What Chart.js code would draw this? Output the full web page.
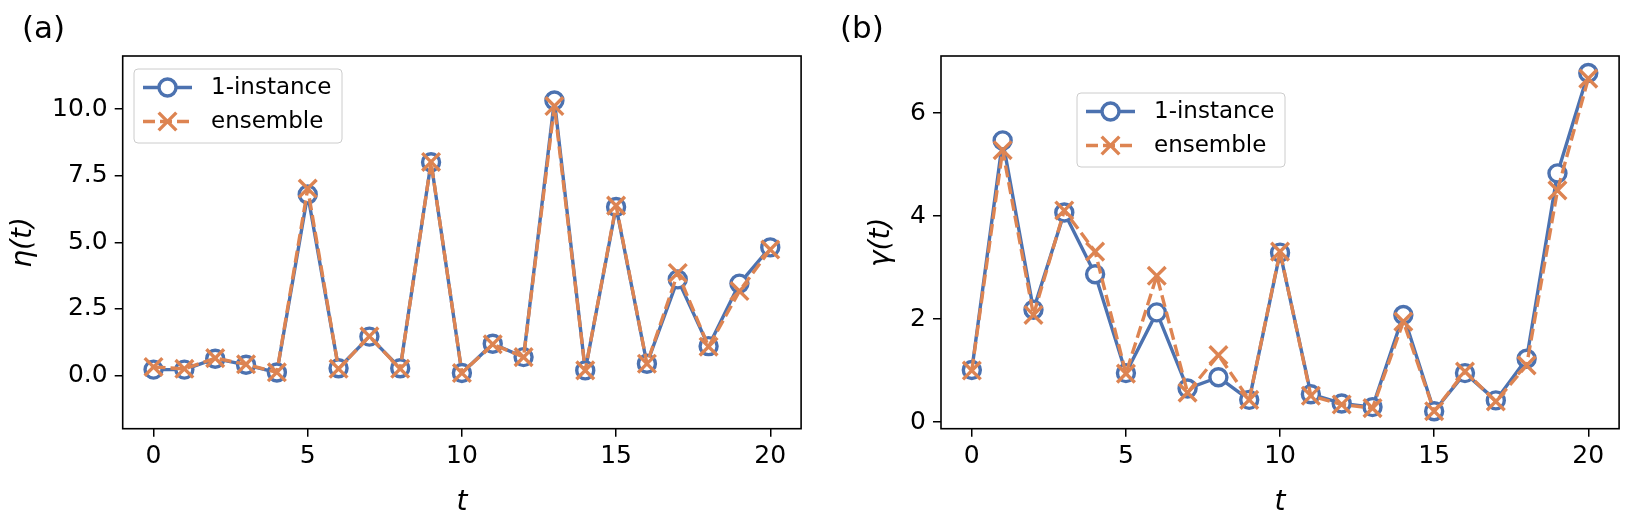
<!DOCTYPE html>
<html>
<head>
<meta charset="utf-8">
<script src="https://cdn.jsdelivr.net/npm/chart.js@4.4.1/dist/chart.umd.min.js"></script>
<style>
  html, body { margin: 0; padding: 0; background: #fff; }
  #wrap { position: relative; width: 1635px; height: 517px; }
  .panel { position: absolute; top: 0; height: 517px; }
  #panelA { left: 0; width: 817px; }
  #panelB { left: 817px; width: 818px; }
</style>
</head>
<body>
<div id="wrap">
  <div class="panel" id="panelA"><canvas id="etaChart"></canvas></div>
  <div class="panel" id="panelB"><canvas id="gammaChart"></canvas></div>
</div>
<script>
// values
const tValues = [0, 1, 2, 3, 4, 5, 6, 7, 8, 9, 10, 11, 12, 13, 14, 15, 16, 17, 18, 19, 20];
const seriesNames = ['1-instance', 'ensemble'];

const etaSingle   = [0.22, 0.22, 0.63, 0.40, 0.11, 6.80, 0.27, 1.46, 0.27, 8.01, 0.09, 1.19, 0.69, 10.33, 0.19, 6.33, 0.44, 3.61, 1.10, 3.45, 4.81];
const etaEnsemble = [0.32, 0.25, 0.65, 0.42, 0.12, 7.02, 0.25, 1.47, 0.25, 8.02, 0.09, 1.17, 0.69, 10.12, 0.19, 6.38, 0.44, 3.85, 1.08, 3.17, 4.73];

const gammaSingle   = [1.01, 5.47, 2.18, 4.07, 2.87, 0.95, 2.13, 0.65, 0.87, 0.43, 3.29, 0.54, 0.36, 0.29, 2.08, 0.21, 0.95, 0.42, 1.23, 4.83, 6.78];
const gammaEnsemble = [1.00, 5.28, 2.08, 4.11, 3.31, 0.94, 2.84, 0.57, 1.30, 0.43, 3.31, 0.51, 0.34, 0.27, 1.95, 0.21, 0.98, 0.40, 1.10, 4.50, 6.67];

const xTicks = [0, 5, 10, 15, 20];
const etaTicks = [0, 2.5, 5, 7.5, 10];
const gammaTicks = [0, 2, 4, 6];

const BLUE = '#4C72B0';
const ORANGE = '#DD8452';
const FONT = '"DejaVu Sans", sans-serif';
const LW = 3.4;

function toPoints(ys) {
  return tValues.map((t, i) => ({ x: t, y: ys[i] }));
}

function makeDatasets(single, ensemble) {
  return [
    { label: seriesNames[0], data: toPoints(single), order: 1,
      borderColor: BLUE, borderWidth: LW, tension: 0, borderJoinStyle: 'round',
      pointStyle: 'circle', pointRadius: 8.5, pointBorderWidth: LW,
      pointBorderColor: BLUE, pointBackgroundColor: '#fff' },
    { label: seriesNames[1], data: toPoints(ensemble), order: 0,
      borderColor: ORANGE, borderWidth: LW, borderDash: [12, 5], tension: 0, borderJoinStyle: 'round',
      pointStyle: 'crossRot', pointRadius: 12.5, pointBorderWidth: LW,
      pointBorderColor: ORANGE, pointBackgroundColor: ORANGE }
  ];
}

// frame, panel letter and matplotlib-style legend
const decorPlugin = {
  id: 'decor',
  afterDatasetsDraw(chart, args, o) {
    const ctx = chart.ctx, ca = chart.chartArea;
    ctx.save();
    ctx.strokeStyle = '#000';
    ctx.lineWidth = 1.6;
    ctx.strokeRect(ca.left, ca.top, ca.right - ca.left, ca.bottom - ca.top);

    // legend box
    const x0 = ca.left + o.legendDx, y0 = ca.top + o.legendDy, w = 208, h = 74;
    ctx.beginPath();
    ctx.roundRect(x0, y0, w, h, 4);
    ctx.fillStyle = 'rgba(255,255,255,0.8)';
    ctx.fill();
    ctx.strokeStyle = '#cccccc';
    ctx.lineWidth = 1;
    ctx.stroke();
    chart.data.datasets.forEach((ds, i) => {
      const ry = y0 + 18.5 + i * 34;
      const cx = x0 + 33.5;
      ctx.beginPath();
      ctx.setLineDash(ds.borderDash || []);
      ctx.strokeStyle = ds.borderColor;
      ctx.lineWidth = ds.borderWidth;
      ctx.moveTo(x0 + 9, ry);
      ctx.lineTo(x0 + 58, ry);
      ctx.stroke();
      ctx.setLineDash([]);
      ctx.lineWidth = ds.pointBorderWidth;
      ctx.strokeStyle = ds.pointBorderColor;
      ctx.beginPath();
      if (ds.pointStyle === 'circle') {
        ctx.arc(cx, ry, ds.pointRadius, 0, Math.PI * 2);
        ctx.fillStyle = ds.pointBackgroundColor;
        ctx.fill();
        ctx.stroke();
      } else {
        const d = ds.pointRadius * Math.SQRT1_2;
        ctx.moveTo(cx - d, ry - d); ctx.lineTo(cx + d, ry + d);
        ctx.moveTo(cx - d, ry + d); ctx.lineTo(cx + d, ry - d);
        ctx.stroke();
      }
      ctx.fillStyle = '#000';
      ctx.font = '23px ' + FONT;
      ctx.textBaseline = 'middle';
      ctx.textAlign = 'left';
      ctx.fillText(ds.label, x0 + 77, ry + 1);
    });

    ctx.font = '31px ' + FONT;
    ctx.textBaseline = 'alphabetic';
    ctx.fillStyle = '#000';
    ctx.fillText(o.label, o.labelX, 37.7);
    ctx.restore();
  }
};

function makePanel(canvasId, p) {
  return new Chart(document.getElementById(canvasId), {
    type: 'line',
    data: { datasets: makeDatasets(p.single, p.ensemble) },
    plugins: [decorPlugin],
    options: {
      responsive: true,
      maintainAspectRatio: false,
      animation: false,
      layout: { padding: { left: 0, right: p.padRight, top: 56, bottom: 0 } },
      plugins: {
        legend: { display: false },
        tooltip: { enabled: false },
        decor: { label: p.label, labelX: p.labelX, legendDx: p.legendDx, legendDy: p.legendDy }
      },
      scales: {
        x: {
          type: 'linear', min: -1, max: 21,
          afterBuildTicks: s => { s.ticks = xTicks.map(v => ({ value: v })); },
          afterFit: s => { s.height = 88.3; },
          border: { display: false },
          grid: { drawOnChartArea: false, drawTicks: true, tickLength: 8, color: '#000', lineWidth: 1.5 },
          ticks: { color: '#000', font: { family: FONT, size: 25, lineHeight: 1.2 }, padding: 5, maxRotation: 0 },
          title: { display: true, text: 't', color: '#000',
                   font: { family: FONT, size: 28, style: 'italic', lineHeight: 1 },
                   padding: { top: 0, bottom: 0 } }
        },
        y: {
          type: 'linear', min: p.yMin, max: p.yMax,
          afterBuildTicks: s => { s.ticks = p.yTicks.map(v => ({ value: v })); },
          afterFit: s => { s.width = p.yWidth; },
          border: { display: false },
          grid: { drawOnChartArea: false, drawTicks: true, tickLength: 8, color: '#000', lineWidth: 1.5 },
          ticks: { color: '#000', font: { family: FONT, size: 25 }, padding: 7,
                   callback: p.tickFmt },
          title: { display: true, text: p.yTitle, color: '#000',
                   font: { family: FONT, size: 28, style: 'italic', lineHeight: 1 },
                   padding: { top: p.yTitlePad, bottom: 0 } }
        }
      }
    }
  });
}

makePanel('etaChart', {
  single: etaSingle, ensemble: etaEnsemble,
  yMin: -2, yMax: 12, yTicks: etaTicks, tickFmt: v => v.toFixed(1),
  yTitle: 'η(t)', yTitlePad: 10, yWidth: 122.7, padRight: 12.7,
  label: '(a)', labelX: 22, legendDx: 11.3, legendDy: 13
});

makePanel('gammaChart', {
  single: gammaSingle, ensemble: gammaEnsemble,
  yMin: -0.13, yMax: 7.11, yTicks: gammaTicks, tickFmt: v => String(v),
  yTitle: 'γ(t)', yTitlePad: 51, yWidth: 124, padRight: 12,
  label: '(b)', labelX: 23, legendDx: 136, legendDy: 37
});
</script>
</body>
</html>
